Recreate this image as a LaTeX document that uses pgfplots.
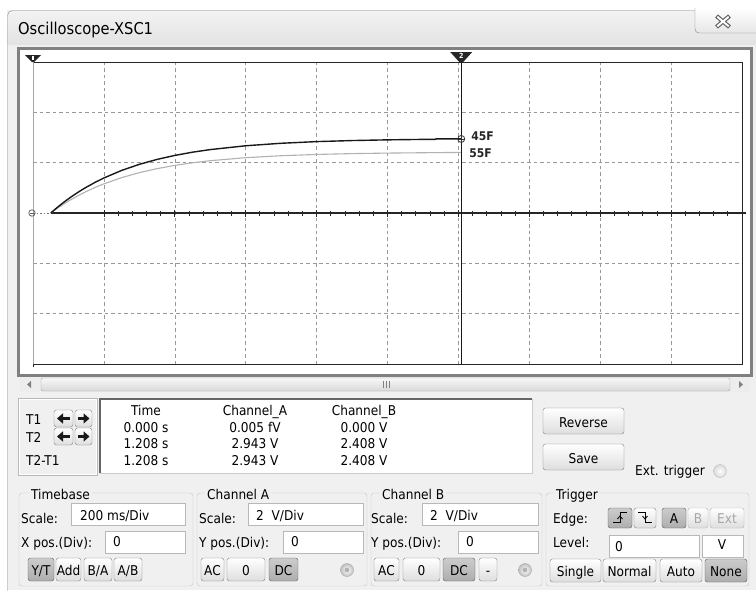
\documentclass[border=0pt]{standalone}
\usepackage{pgfplots}
\pgfplotsset{compat=1.18}
\usepackage{fontspec}
\setmainfont{DejaVu Sans}
\newfontfamily\uifont{DejaVu Sans Condensed}
\usetikzlibrary{arrows.meta}
\definecolor{winbg}{HTML}{F0F0F0}
\newcommand\uif{\uifont\fontsize{13.5}{15}\selectfont}
\tikzset{
  btn/.style={rounded corners=2.5pt, draw=black!50, top color=white, bottom color=black!13},
  pressed/.style={top color=black!20, bottom color=black!32, draw=black!65},
  tb/.style={draw=black!28, fill=white},
}
% \btn[style]{x1}{y1}{x2}{y2}{baseline}{text}
\newcommand\btn[7][]{\draw[btn,#1] (#2,#3) rectangle (#4,#5);
  \node[font=\uif, inner sep=0, anchor=base] at ({(#2+#4)/2},#6) {#7};}
% \tbox{x1}{y1}{x2}{y2}{textx}{baseline}{text}
\newcommand\tbox[7]{\draw[tb] (#1,#2) rectangle (#3,#4);
  \node[font=\uif, inner sep=0, anchor=base west] at (#5,#6) {#7};}
\newcommand\lbl[3]{\node[font=\uif, inner sep=0, anchor=base west] at (#1,#2) {#3};}
\newcommand\gbox[6]{\draw[black!22, rounded corners=3pt] (#1,#2) rectangle (#3,#4);
  \node[font=\uif, fill=winbg, inner xsep=2pt, inner ysep=1pt, anchor=base west] at (#5-2,499) {#6};}
\newcommand\radio[2]{\shade[inner color=white, outer color=black!25, draw=black!35] (#1,#2) circle (6.5);
  \fill[black!30] (#1,#2) circle (2.3);}
\begin{document}
\begin{tikzpicture}
\begin{scope}[x=1pt,y=-1pt]
\path[use as bounding box] (0,0) rectangle (756,590);
\fill[white] (0,0) rectangle (756,590);
% window body
\fill[winbg] (7,10) rectangle (756,590);
\shade[top color=black!5, bottom color=black!11] (7.5,45) [rounded corners=5pt]-- (7.5,10.5) [sharp corners]-- (756,10.5) -- (756,45) -- cycle;
\draw[black!45] (7.5,592) [rounded corners=5pt]-- (7.5,10.5) [sharp corners]-- (758,10.5);
\node[font=\uifont\fontsize{16.3}{18}\selectfont, inner sep=0, anchor=base west] at (18,34) {Oscilloscope-XSC1};
% close button
\draw[black!50, top color=white, bottom color=black!10] (695,8) [rounded corners=4pt]-- (695,33) [sharp corners]-- (760,33) -- (760,8);
\draw[line width=4.2pt, black!62] (716.5,16) -- (729.5,27) (716.5,27) -- (729.5,16);
\draw[line width=1.9pt, white] (717.3,16.7) -- (728.7,26.3) (717.3,26.3) -- (728.7,16.7);
% plot panel
\draw[line width=3pt, black!50, fill=white] (18.5,48.5) rectangle (751.5,375);
% scrollbar
\fill[black!7] (20,377) rectangle (750,392);
\fill[black!50] (27,384.5) -- (31,381) -- (31,388) -- cycle;
\fill[black!50] (743,384.5) -- (739,381) -- (739,388) -- cycle;
\draw[rounded corners=2pt, black!35, top color=black!3, bottom color=black!15] (41,378) rectangle (730,391);
\draw[black!50, line width=0.8pt] (383,381) -- (383,388) (386,381) -- (386,388) (389,381) -- (389,388);
% T panel
\draw[black!28] (18,398) rectangle (97,475);
\draw[white] (19,399) rectangle (96,474);
\lbl{26}{424}{T1}
\lbl{26}{442}{T2}
\lbl{26}{465}{T2-T1}
\foreach \y in {410,428}{
  \draw[btn] (54,\y) rectangle (73,\y+17);
  \draw[btn] (75,\y) rectangle (92,\y+17);
  \draw[line width=3pt, black!90, -{Triangle[length=6pt,width=10pt]}] (69.5,\y+8.5) -- (57,\y+8.5);
  \draw[line width=3pt, black!90, -{Triangle[length=6pt,width=10pt]}] (78,\y+8.5) -- (89.5,\y+8.5);
}
% table
\fill[white] (100,399) rectangle (532,473);
\draw[black!60, line width=1.4pt] (100,473) -- (100,399) -- (532,399);
\draw[black!20] (532,399) -- (532,473) -- (100,473);
\begin{scope}[every node/.style={font=\uif, inner sep=0, anchor=base}]
\node at (146,415) {Time};      \node at (255,415) {Channel\_A}; \node at (364,415) {Channel\_B};
\node at (146,432) {0.000 s};   \node at (255,432) {0.005 fV};   \node at (364,432) {0.000 V};
\node at (146,448) {1.208 s};   \node at (255,448) {2.943 V};    \node at (364,448) {2.408 V};
\node at (146,465) {1.208 s};   \node at (255,465) {2.943 V};    \node at (364,465) {2.408 V};
\end{scope}
% reverse / save / ext
\btn{543}{408}{624}{434}{427}{Reverse}
\btn{543}{444}{624}{470}{463}{Save}
\lbl{635}{475}{Ext. trigger}
\shade[inner color=white, outer color=black!15, draw=black!25] (720,471) circle (6.5);
% group boxes
\gbox{19}{493}{193}{586}{31}{Timebase}
\gbox{197}{493}{367}{586}{207}{Channel A}
\gbox{371}{493}{542}{586}{382}{Channel B}
\gbox{546}{493}{749}{586}{556}{Trigger}
% timebase
\lbl{21}{523}{Scale:}
\tbox{71}{503}{185}{525}{80}{520}{200 ms/Div}
\lbl{21}{547}{X pos.(Div):}
\tbox{105}{531}{185}{553}{113}{546}{0}
\btn[pressed]{28}{558}{54}{581}{575}{Y/T}
\btn{56}{558}{81}{581}{575}{Add}
\btn{84}{558}{112}{581}{575}{B/A}
\btn{114}{558}{142}{581}{575}{A/B}
% channel A
\lbl{199}{523}{Scale:}
\tbox{248}{503}{363}{525}{256}{520}{2~~V/Div}
\lbl{199}{547}{Y pos.(Div):}
\tbox{283}{531}{363}{553}{291}{546}{0}
\btn{201}{558}{224}{581}{575}{AC}
\btn{227}{558}{265}{581}{575}{0}
\btn[pressed]{269}{558}{298}{581}{575}{DC}
\radio{347}{570}
% channel B
\lbl{371}{523}{Scale:}
\tbox{422}{503}{538}{525}{430}{520}{2~~V/Div}
\lbl{371}{547}{Y pos.(Div):}
\tbox{458}{531}{538}{553}{466}{546}{0}
\btn{374}{558}{399}{581}{575}{AC}
\btn{403}{558}{440}{581}{575}{0}
\btn[pressed]{443}{558}{475}{581}{575}{DC}
\btn{479}{558}{497}{581}{575}{-}
\radio{525}{570}
% trigger
\lbl{553}{523}{Edge:}
\draw[btn,pressed] (608,508) rectangle (632,528);
\draw[black, line width=1pt] (613,522.5) -- (620,522.5) -- (620,512.5) -- (627,512.5);
\draw[black, line width=0.8pt] (617.5,519) -- (620,516) -- (622.5,519);
\draw[btn] (634,508) rectangle (656,528);
\draw[black, line width=1pt] (638,512.5) -- (645,512.5) -- (645,522.5) -- (652,522.5);
\draw[black, line width=0.8pt] (642.5,516) -- (645,519) -- (647.5,516);
\btn[pressed]{662}{508}{686}{528}{523}{A}
\btn[draw=black!30]{688}{508}{708}{528}{523}{\textcolor{black!35}{B}}
\btn[draw=black!30]{710}{508}{744}{528}{523}{\textcolor{black!35}{Ext}}
\lbl{553}{547}{Level:}
\tbox{609}{535}{699}{557}{615}{551}{0}
\draw[tb] (702,535) rectangle (743,557);
\node[font=\uif, inner sep=0, anchor=base] at (722,549) {V};
\btn{550}{559}{601}{582}{576}{Single}
\btn{603}{559}{656}{582}{576}{Normal}
\btn{660}{559}{702}{582}{576}{Auto}
\btn[pressed]{705}{559}{747}{582}{576}{None}
\end{scope}

% ---------- oscilloscope screen ----------
\begin{axis}[
  at={(33pt,-364pt)}, anchor=south west,
  width=709pt, height=302pt, scale only axis,
  xmin=0, xmax=2, ymin=-6, ymax=6,
  xtick={0.2,0.4,0.6,0.8,1.0,1.2,1.4,1.6,1.8}, ytick={-4,-2,0,2,4},
  xticklabels={}, yticklabels={},
  tick style={draw=none},
  grid=major,
  major grid style={black!40, line width=0.6pt, dash pattern=on 3.5pt off 3pt},
  axis line style={draw=none},
  clip=false,
]
% frame
\draw[black!85, line width=0.9pt] (axis cs:0,6) -- (axis cs:2,6) -- (axis cs:2,-6) -- (axis cs:0,-6);
\draw[black!35, line width=0.8pt] (axis cs:0,6) -- (axis cs:0,-6);
\draw[black!85, line width=0.8pt] (axis cs:0,-6) -- ([yshift=-3pt]axis cs:0,-6);
% zero line
\draw[white, line width=1pt] (axis cs:0,0) -- (axis cs:2,0);
\draw[black!55, line width=0.8pt, dash pattern=on 1.5pt off 2pt] (axis cs:0,0) -- (axis cs:0.05,0);
\draw[black!85, line width=1.1pt] (axis cs:0.05,0) -- ([xshift=4pt]axis cs:2,0);
% channel B (55F)
\addplot[black!30, line width=1.1pt] coordinates {
 (0.05,0) (0.07,0.202) (0.09,0.386) (0.11,0.556) (0.13,0.711) (0.15,0.853)
 (0.175,1.015) (0.20,1.159) (0.25,1.406) (0.30,1.604) (0.35,1.763) (0.40,1.892)
 (0.45,1.995) (0.50,2.078) (0.60,2.199) (0.70,2.276) (0.80,2.327) (0.90,2.360)
 (1.00,2.381) (1.10,2.395) (1.208,2.408)};
% channel A (45F)
\addplot[black!90, line width=1.4pt] coordinates {
 (0.05,0) (0.07,0.240) (0.09,0.461) (0.11,0.665) (0.13,0.851) (0.15,1.022)
 (0.175,1.217) (0.20,1.392) (0.25,1.692) (0.30,1.934) (0.35,2.130) (0.40,2.288)
 (0.45,2.417) (0.50,2.520) (0.60,2.672) (0.70,2.771) (0.80,2.837) (0.90,2.879)
 (1.00,2.907) (1.10,2.925) (1.135,2.925) (1.137,2.943) (1.208,2.943)};
% cursor 2
\draw[black!90, line width=1pt] (axis cs:1.208,6) -- (axis cs:1.208,-6);
\fill[black!85] ([xshift=-11pt,yshift=10pt]axis cs:1.208,6) -- ([xshift=11pt,yshift=10pt]axis cs:1.208,6)
   -- ([xshift=2pt]axis cs:1.208,6) -- ([xshift=-2pt]axis cs:1.208,6) -- cycle;
\node[white, font=\uifont\bfseries\fontsize{7}{7}\selectfont, inner sep=0] at ([yshift=6pt]axis cs:1.208,6) {2};
% cursor 1
\fill[black!85] ([xshift=-8pt,yshift=7pt]axis cs:0,6) -- ([xshift=8pt,yshift=7pt]axis cs:0,6)
   -- ([xshift=1pt]axis cs:0,6) -- ([xshift=-1pt]axis cs:0,6) -- cycle;
\fill[white] ([xshift=-1pt,yshift=2pt]axis cs:0,6) rectangle ([xshift=1pt,yshift=6pt]axis cs:0,6);
% markers
\addplot[only marks, mark=o, mark size=3.5pt, black!80, mark options={line width=0.8pt}] coordinates {(1.208,2.943)};
\addplot[only marks, mark=+, mark size=3pt, black!80, mark options={line width=0.6pt}] coordinates {(1.208,2.943)};
\addplot[only marks, mark=o, mark size=3.2pt, black!60, mark options={line width=0.8pt}] coordinates {(-0.003,0)};
\addplot[only marks, mark=-, mark size=2pt, black!60] coordinates {(-0.003,0)};
\node[font=\uifont\bfseries\fontsize{12}{14}\selectfont, black!85, anchor=west, inner sep=0] at ([xshift=10pt,yshift=3pt]axis cs:1.208,2.943) {45F};
\node[font=\uifont\bfseries\fontsize{12}{14}\selectfont, black!85, anchor=west, inner sep=0] at ([xshift=8pt,yshift=-1pt]axis cs:1.208,2.408) {55F};
\end{axis}
% ticks on the zero line
\begin{axis}[
  at={(33pt,-364pt)}, anchor=south west,
  width=709pt, height=302pt, scale only axis,
  xmin=0, xmax=2, ymin=-6, ymax=6,
  axis x line=middle, axis y line=none,
  axis line style={draw=none},
  xtick={0.2,0.4,0.6,0.8,1.0,1.2,1.4,1.6,1.8,2.0}, minor x tick num=4,
  xticklabels={},
  tick align=center,
  major tick length=7pt, minor tick length=5pt,
  every tick/.style={black!85, line width=0.8pt},
  clip=false,
]
\addplot[draw=none] coordinates {(0.1,0)};
\end{axis}
\end{tikzpicture}
\end{document}
